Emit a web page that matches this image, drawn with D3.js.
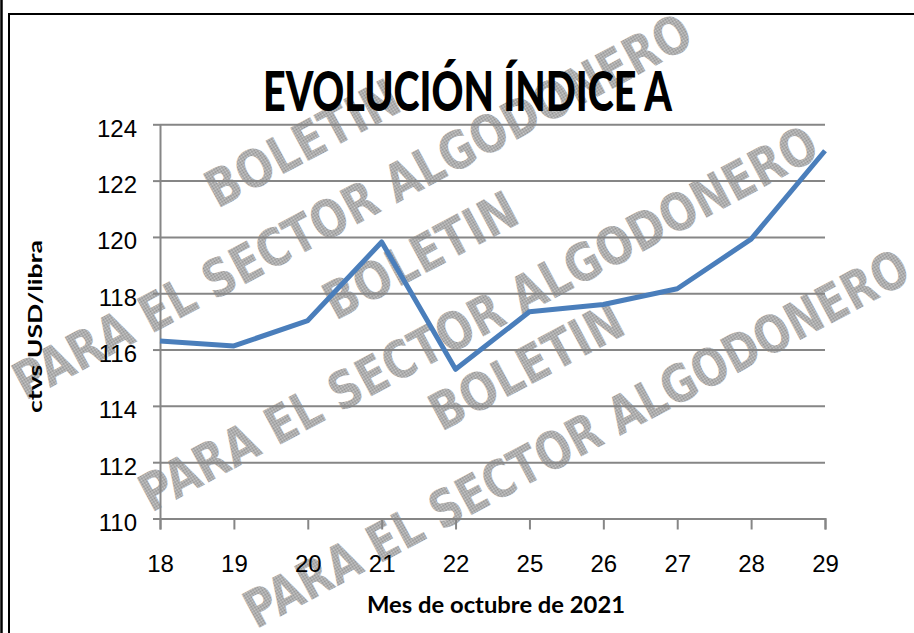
<!DOCTYPE html>
<html>
<head>
<meta charset="utf-8">
<script src="https://cdn.jsdelivr.net/npm/d3@7"></script>
<style>
  body { margin: 0; background: #fff; }
  svg { display: block; font-family: Lato, "Open Sans", sans-serif; }
</style>
</head>
<body>
<svg></svg>
<script>
let width = 914;
let height = 633;

// chart data
let days = ['18', '19', '20', '21', '22', '25', '26', '27', '28', '29'];
let indiceA = [116.3, 116.13, 117.03, 119.82, 115.3, 117.34, 117.6, 118.16, 119.92, 123.06];
let yTicks = [110, 112, 114, 116, 118, 120, 122, 124];

let title = 'EVOLUCIÓN ÍNDICE A';
let yTitle = 'ctvs USD/libra';
let xTitle = 'Mes de octubre de 2021';
let markTop = 'BOLETIN';
let markBottom = 'PARA EL SECTOR ALGODONERO';

let plotLeft = 160, plotRight = 825, plotTop = 124.3, plotBottom = 518.5;

let xScale = d3.scalePoint()
    .domain(days)
    .range([plotLeft, plotRight]);

let yScale = d3.scaleLinear()
    .domain([110, 124])
    .range([plotBottom, plotTop]);

let svg = d3.select('svg')
    .attr('width', width)
    .attr('height', height);

// dotted fill for the watermark
let defs = svg.append('defs');
let pat = defs.append('pattern')
    .attr('id', 'dots')
    .attr('width', 2)
    .attr('height', 2)
    .attr('patternUnits', 'userSpaceOnUse');
pat.append('rect').attr('width', 2).attr('height', 2).attr('fill', '#cdcdcd');
pat.append('rect').attr('width', 1).attr('height', 1).attr('fill', '#8f8f8f');
pat.append('rect').attr('x', 1).attr('y', 1).attr('width', 1).attr('height', 1).attr('fill', '#8f8f8f');

defs.append('clipPath').attr('id', 'box')
    .append('rect')
    .attr('x', 10).attr('y', 15)
    .attr('width', width).attr('height', height);

// frame
svg.append('line')
    .attr('x1', 1.5).attr('x2', 1.5)
    .attr('y1', 0).attr('y2', height)
    .attr('stroke', '#000').attr('stroke-width', 2.5);

svg.append('path')
    .attr('d', `M9,${height}V14H${width}`)
    .attr('fill', 'none')
    .attr('stroke', '#000').attr('stroke-width', 2);

// watermark blocks
let blocks = [
    { b: [302, 143], p: [352, 206], len: 760 },
    { b: [420, 255], p: [478, 318], len: 760 },
    { b: [526, 366], p: [576, 438], len: 745 }
];

let wm = svg.append('g').attr('clip-path', 'url(#box)');
blocks.forEach(blk => {
    wm.append('text')
        .attr('transform', `translate(${blk.b[0]},${blk.b[1]}) rotate(-28)`)
        .attr('text-anchor', 'middle')
        .attr('dy', '0.36em')
        .attr('textLength', 212)
        .attr('lengthAdjust', 'spacingAndGlyphs')
        .style('font-family', '"DejaVu Sans"')
        .style('font-weight', 'bold')
        .style('font-size', '52px')
        .attr('fill', 'url(#dots)')
        .text(markTop);
    wm.append('text')
        .attr('transform', `translate(${blk.p[0]},${blk.p[1]}) rotate(-28)`)
        .attr('text-anchor', 'middle')
        .attr('dy', '0.36em')
        .attr('textLength', blk.len)
        .attr('lengthAdjust', 'spacingAndGlyphs')
        .style('font-family', '"DejaVu Sans"')
        .style('font-weight', 'bold')
        .style('font-size', '52px')
        .attr('fill', 'url(#dots)')
        .text(markBottom);
});

// gridlines
let grid = svg.append('g')
    .attr('transform', `translate(${plotLeft}, 0)`)
    .call(d3.axisLeft(yScale)
        .tickValues(yTicks)
        .tickSize(-(plotRight - plotLeft))
        .tickFormat(''));
grid.select('.domain').remove();
grid.selectAll('line').attr('stroke', '#868686').attr('stroke-width', 2);

// y axis
let yAxis = svg.append('g')
    .attr('transform', `translate(${plotLeft}, 0)`)
    .call(d3.axisLeft(yScale)
        .tickValues(yTicks)
        .tickSize(7)
        .tickSizeOuter(0)
        .tickPadding(16));
yAxis.select('.domain').attr('stroke', '#868686').attr('stroke-width', 2);
yAxis.selectAll('line').attr('stroke', '#868686').attr('stroke-width', 2);
yAxis.selectAll('text')
    .attr('dy', '0.5em')
    .style('font-size', '24px')
    .attr('fill', '#000');

// x axis
let xAxis = svg.append('g')
    .attr('transform', `translate(0, ${plotBottom})`)
    .call(d3.axisBottom(xScale)
        .tickSize(11)
        .tickSizeOuter(11)
        .tickPadding(25));
xAxis.select('.domain').attr('stroke', '#868686').attr('stroke-width', 2);
xAxis.selectAll('line').attr('stroke', '#868686').attr('stroke-width', 2);
xAxis.selectAll('text')
    .style('font-size', '24px')
    .attr('fill', '#000');

// series line
let line = d3.line()
    .x((d, i) => xScale(days[i]))
    .y(d => yScale(d));

svg.append('path')
    .datum(indiceA)
    .attr('d', line)
    .attr('fill', 'none')
    .attr('stroke', '#4a7ebb')
    .attr('stroke-width', 5)
    .attr('stroke-linejoin', 'round');

// titles
svg.append('text')
    .attr('x', 467.5)
    .attr('y', 111)
    .attr('text-anchor', 'middle')
    .attr('textLength', 409)
    .attr('lengthAdjust', 'spacingAndGlyphs')
    .style('font-size', '55px')
    .style('font-weight', 900)
    .text(title);

svg.append('text')
    .attr('transform', 'translate(42, 326.5) rotate(-90)')
    .attr('text-anchor', 'middle')
    .attr('textLength', 173)
    .attr('lengthAdjust', 'spacingAndGlyphs')
    .style('font-size', '19px')
    .style('font-weight', 'bold')
    .text(yTitle);

svg.append('text')
    .attr('x', 496)
    .attr('y', 613)
    .attr('text-anchor', 'middle')
    .attr('textLength', 258)
    .attr('lengthAdjust', 'spacingAndGlyphs')
    .style('font-size', '22px')
    .style('font-weight', 'bold')
    .text(xTitle);
</script>
</body>
</html>
